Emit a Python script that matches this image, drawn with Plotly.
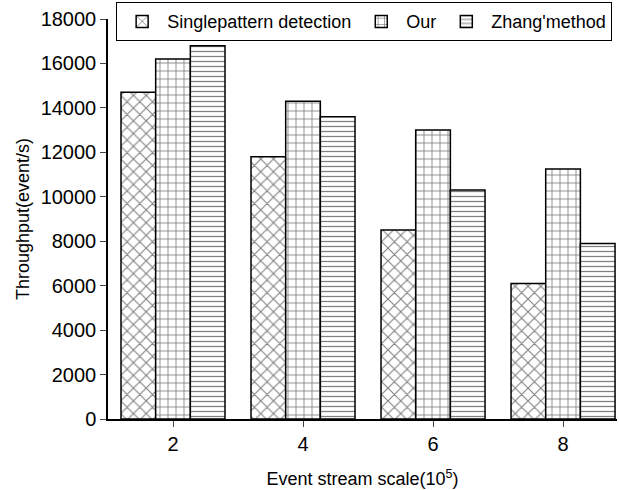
import plotly.graph_objects as go

categories = [2, 4, 6, 8]
single = [14700, 11800, 8500, 6100]
our = [16200, 14300, 13000, 11250]
zhang = [16800, 13600, 10300, 7900]
series_names = ["Singlepattern detection", "Our", "Zhang'method"]
y_ticks = [0, 2000, 4000, 6000, 8000, 10000, 12000, 14000, 16000, 18000]
y_tick_labels = [str(v) for v in y_ticks]

FONT = "Liberation Sans, Arial, sans-serif"

fig = go.Figure()
for name, vals, shape, size, sol in [
    (series_names[0], single, "x", 9, 0.22),
    (series_names[1], our, "+", 8, 0.2),
    (series_names[2], zhang, "-", 5, 0.25),
]:
    fig.add_trace(go.Bar(
        x=categories, y=vals, name=name,
        marker=dict(color="white", line=dict(color="black", width=1.5),
                    pattern=dict(shape=shape, size=size, solidity=sol,
                                 fgcolor="black", bgcolor="white", fillmode="overlay")),
    ))

fig.update_layout(
    width=619, height=490,
    margin=dict(l=108, r=2, t=19, b=71),
    paper_bgcolor="white", plot_bgcolor="white",
    barmode="group", bargap=0.2, bargroupgap=0,
    font=dict(family=FONT, size=18, color="black"),
    legend=dict(orientation="h", x=0.016, y=1.042, xanchor="left", yanchor="top",
                bordercolor="black", borderwidth=1, bgcolor="white",
                font=dict(size=18), itemwidth=40, tracegroupgap=0),
    xaxis=dict(range=[1, 8.83], tickvals=categories, ticks="outside", ticklen=6,
               showline=True, linecolor="black", linewidth=1.5, showgrid=False,
               zeroline=False, automargin=False, tickfont=dict(size=20),
               title=dict(text="Event stream scale(10<sup>5</sup>)", font=dict(size=18), standoff=19)),
    yaxis=dict(range=[0, 18000], tickvals=y_ticks, ticktext=y_tick_labels,
               ticks="outside", ticklen=6,
               showline=True, linecolor="black", linewidth=1.5, showgrid=False,
               zeroline=False, automargin=False, tickfont=dict(size=20),
               title=dict(text="Throughput(event/s)", font=dict(size=18), standoff=6)),
)

fig.write_html("out.html", config={"displayModeBar": False},
               post_script="document.body.style.margin='0';")
